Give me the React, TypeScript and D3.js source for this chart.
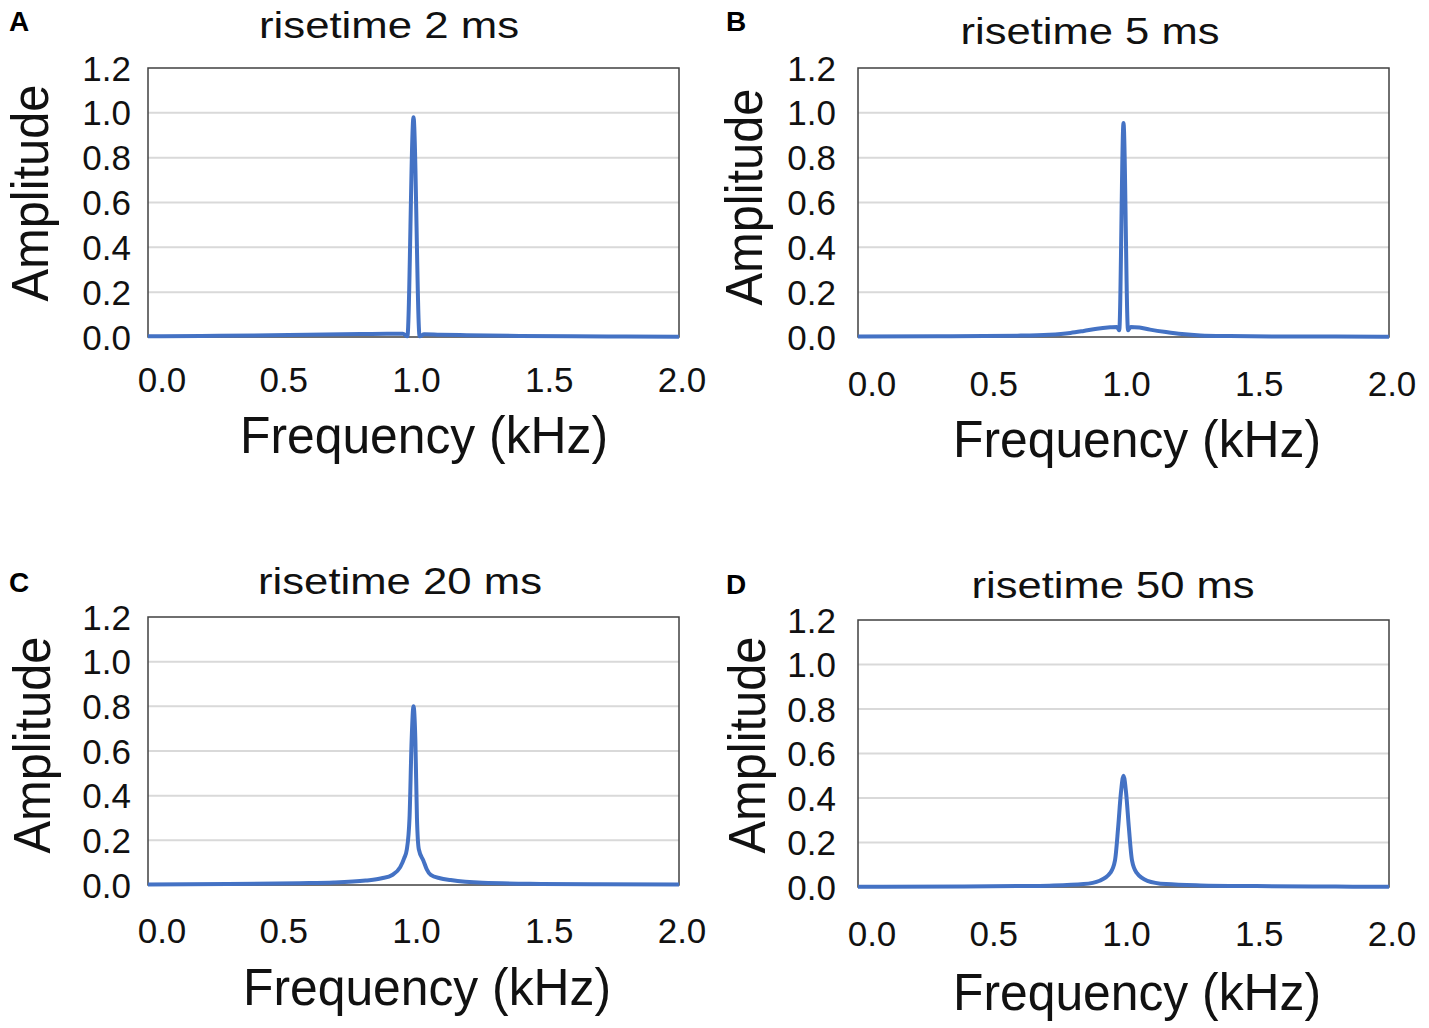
import React, { useEffect, useRef } from "react";
import * as d3 from "d3";

// frequency (kHz), amplitude
const risetimes = ["2", "5", "20", "50"];
const panelLetters = ["A", "B", "C", "D"];
const xTicks = [0, 0.5, 1.0, 1.5, 2.0];
const yTicks = [0, 0.2, 0.4, 0.6, 0.8, 1.0, 1.2];

const spectrum2ms: [number, number][] = [
  [0, 0.003], [0.2, 0.005], [0.4, 0.007], [0.6, 0.01], [0.8, 0.013], [0.9, 0.014],
  [0.96, 0.015], [0.977, 0.003], [1.0, 0.98], [1.023, 0.003], [1.04, 0.012],
  [1.1, 0.01], [1.2, 0.008], [1.4, 0.005], [1.6, 0.003], [1.8, 0.002], [2.0, 0.001],
];

const spectrum5ms: [number, number][] = [
  [0, 0.002], [0.3, 0.003], [0.6, 0.006], [0.72, 0.01], [0.8, 0.018], [0.85, 0.027],
  [0.9, 0.037], [0.95, 0.043], [0.975, 0.045], [0.984, 0.03], [1.0, 0.955],
  [1.017, 0.03], [1.027, 0.045], [1.06, 0.042], [1.1, 0.033], [1.16, 0.022],
  [1.22, 0.013], [1.29, 0.007], [1.4, 0.004], [1.6, 0.002], [1.8, 0.002], [2.0, 0.001],
];

const spectrum20ms: [number, number][] = [
  [0, 0.002], [0.3, 0.004], [0.57, 0.008], [0.7, 0.011], [0.82, 0.02], [0.88, 0.03],
  [0.92, 0.045], [0.95, 0.08], [0.965, 0.12], [0.975, 0.16], [0.985, 0.3],
  [0.993, 0.65], [1.0, 0.8], [1.007, 0.65], [1.013, 0.3], [1.02, 0.16],
  [1.037, 0.11], [1.05, 0.07], [1.065, 0.045], [1.1, 0.03], [1.14, 0.022],
  [1.26, 0.01], [1.48, 0.005], [1.7, 0.003], [2.0, 0.002],
];

const spectrum50ms: [number, number][] = [
  [0, 0.001], [0.4, 0.002], [0.6, 0.004], [0.72, 0.006], [0.85, 0.013], [0.91, 0.028],
  [0.95, 0.063], [0.968, 0.12], [0.98, 0.27], [0.99, 0.42], [1.0, 0.5], [1.01, 0.42],
  [1.02, 0.27], [1.032, 0.12], [1.05, 0.063], [1.09, 0.028], [1.16, 0.013],
  [1.29, 0.007], [1.5, 0.004], [1.8, 0.002], [2.0, 0.001],
];

const spectra = [spectrum2ms, spectrum5ms, spectrum20ms, spectrum50ms];

// where each panel sits on the page
const layouts = [
  { x0: 148, x1: 679, y0: 68, y1: 337, title: [389, 38], titleW: 260, letter: [9, 31], xLabY: 392, xTitle: [424, 453], yTitle: [48, 193], yLabX: 131 },
  { x0: 858, x1: 1389, y0: 68, y1: 337, title: [1090, 44], titleW: 259, letter: [726, 31], xLabY: 396, xTitle: [1137, 457], yTitle: [762, 197], yLabX: 836 },
  { x0: 148, x1: 679, y0: 617, y1: 885, title: [400, 594], titleW: 284, letter: [9, 592], xLabY: 943, xTitle: [427, 1005], yTitle: [50, 745], yLabX: 131 },
  { x0: 858, x1: 1389, y0: 620, y1: 887, title: [1113, 598], titleW: 283, letter: [726, 594], xLabY: 946, xTitle: [1137, 1010], yTitle: [765, 745], yLabX: 836 },
];

const FONT = "'Liberation Sans', Arial, sans-serif";

const App: React.FC = () => {
  const ref = useRef<SVGSVGElement | null>(null);

  useEffect(() => {
    if (!ref.current) return;
    const svg = d3.select(ref.current);
    svg.selectAll("*").remove();

    layouts.forEach((L, i) => {
      const x = d3.scaleLinear().domain([0, 2]).range([L.x0, L.x1]);
      const y = d3.scaleLinear().domain([0, 1.2]).range([L.y1, L.y0]);
      const g = svg.append("g");

      // gridlines
      g.selectAll(".grid")
        .data(yTicks.filter((t) => t > 0 && t < 1.2))
        .enter()
        .append("line")
        .attr("x1", L.x0)
        .attr("x2", L.x1)
        .attr("y1", (d) => y(d))
        .attr("y2", (d) => y(d))
        .style("stroke", "#d9d9d9")
        .style("stroke-width", 2);

      // plot frame
      g.append("rect")
        .attr("x", L.x0)
        .attr("y", L.y0)
        .attr("width", L.x1 - L.x0)
        .attr("height", L.y1 - L.y0)
        .style("fill", "none")
        .style("stroke", "#404040")
        .style("stroke-width", 1.5);

      const line = d3
        .line<[number, number]>()
        .x((d) => x(d[0]))
        .y((d) => y(d[1]))
        .curve(d3.curveMonotoneX);

      g.append("path")
        .datum(spectra[i])
        .attr("d", line)
        .style("fill", "none")
        .style("stroke", "#4472c4")
        .style("stroke-width", 4)
        .style("stroke-linejoin", "round");

      // y tick labels
      g.selectAll(".ylab")
        .data(yTicks)
        .enter()
        .append("text")
        .attr("x", L.yLabX)
        .attr("y", (d) => y(d))
        .attr("dy", "0.36em")
        .attr("text-anchor", "end")
        .style("font-family", FONT)
        .style("font-size", "35px")
        .style("fill", "#111")
        .text((d) => d3.format(".1f")(d));

      // x tick labels (Excel nudges the first one inward)
      g.selectAll(".xlab")
        .data(xTicks)
        .enter()
        .append("text")
        .attr("x", (d) => Math.max(x(d) + 3, L.x0 + 14))
        .attr("y", L.xLabY)
        .attr("text-anchor", "middle")
        .style("font-family", FONT)
        .style("font-size", "35px")
        .style("fill", "#111")
        .text((d) => d3.format(".1f")(d));

      g.append("text")
        .attr("x", L.title[0])
        .attr("y", L.title[1])
        .attr("text-anchor", "middle")
        .attr("textLength", L.titleW)
        .attr("lengthAdjust", "spacingAndGlyphs")
        .style("font-family", FONT)
        .style("font-size", "36px")
        .style("fill", "#111")
        .text(`risetime ${risetimes[i]} ms`);

      g.append("text")
        .attr("x", L.letter[0])
        .attr("y", L.letter[1])
        .style("font-family", FONT)
        .style("font-size", "28px")
        .style("font-weight", "bold")
        .style("fill", "#000")
        .text(panelLetters[i]);

      g.append("text")
        .attr("x", L.xTitle[0])
        .attr("y", L.xTitle[1])
        .attr("text-anchor", "middle")
        .attr("textLength", 368)
        .attr("lengthAdjust", "spacingAndGlyphs")
        .style("font-family", FONT)
        .style("font-size", "52px")
        .style("fill", "#111")
        .text("Frequency (kHz)");

      g.append("text")
        .attr("transform", `translate(${L.yTitle[0]},${L.yTitle[1]}) rotate(-90)`)
        .attr("text-anchor", "middle")
        .attr("textLength", 217)
        .attr("lengthAdjust", "spacingAndGlyphs")
        .style("font-family", FONT)
        .style("font-size", "52px")
        .style("fill", "#111")
        .text("Amplitude");
    });
  }, []);

  return (
    <svg
      ref={ref}
      width={1429}
      height={1028}
      style={{ position: "absolute", left: 0, top: 0, background: "#fff" }}
    ></svg>
  );
};

export default App;
